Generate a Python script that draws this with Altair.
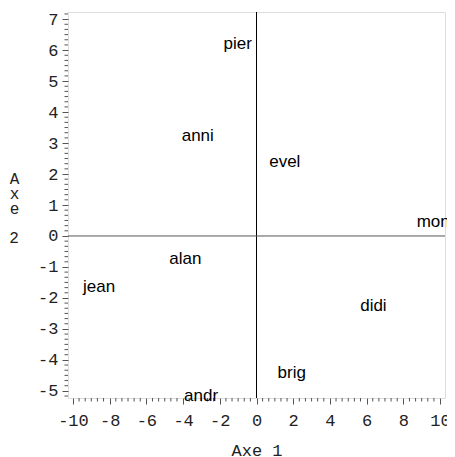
import altair as alt
import pandas as pd

names = ["pier", "anni", "evel", "moni", "alan", "jean", "didi", "brig", "andr"]
axe1 = [-1.02, -3.20, 1.54, 9.73, -3.88, -8.58, 6.37, 1.92, -3.02]
axe2 = [6.19, 3.24, 2.39, 0.44, -0.74, -1.65, -2.26, -4.42, -5.16]

x_ticks = list(range(-10, 11, 2))
y_ticks = list(range(-5, 8))
x_domain = [-10.27, 10.27]
y_domain = [-5.23, 7.23]

W, H = 377, 386

x_minor = [i / 3 for i in range(-31, 32) if i % 6 != 0 and x_domain[0] <= i / 3 <= x_domain[1]]
y_minor = [i / 6 for i in range(-32, 45) if i % 6 != 0 and y_domain[0] <= i / 6 <= y_domain[1]]

df = pd.DataFrame({"name": names, "x": axe1, "y": axe2})

xs = alt.Scale(domain=x_domain, nice=False, zero=False)
ys = alt.Scale(domain=y_domain, nice=False, zero=False)

mono = "Liberation Mono"

x_axis = alt.Axis(
    values=x_ticks, grid=False, domain=False, tickSize=6, tickColor="#555",
    labelFont=mono, labelFontSize=17, labelColor="#222", labelPadding=8,
    labelOverlap=False, labelFlush=False,
    labelExpr="replace(datum.label, '\u2212', '-')",
    title="Axe 1", titleFont=mono, titleFontSize=17, titleFontWeight="normal",
    titleColor="#222", titleBaseline="alphabetic", titleY=57,
)
y_axis = alt.Axis(
    values=y_ticks, grid=False, domain=False, tickSize=6, tickColor="#555",
    labelFont=mono, labelFontSize=17, labelColor="#222", labelPadding=4,
    labelOverlap=False, labelFlush=False,
    labelExpr="replace(datum.label, '\u2212', '-')",
    title=["A", "x", "e"], titleFont=mono, titleFontSize=16,
    titleFontWeight="normal", titleColor="#222", titleAngle=0,
    titleAlign="center", titleBaseline="alphabetic", titleLineHeight=15,
    titleX=-54, titleY=171,
)

X = lambda f: alt.X(f, scale=xs, axis=x_axis)
Y = lambda f: alt.Y(f, scale=ys, axis=y_axis)

labels = alt.Chart(df).mark_text(
    font="Liberation Sans", fontSize=17, color="#000", align="center", baseline="middle"
).encode(x=X("x:Q"), y=Y("y:Q"), text="name:N")

vline = alt.Chart(pd.DataFrame({"x": [0]})).mark_rule(color="#000", strokeWidth=1).encode(
    x=X("x:Q")
)
hline = alt.Chart(pd.DataFrame({"y": [0]})).mark_rule(color="#555", strokeWidth=1).encode(
    y=Y("y:Q")
)

xminor = alt.Chart(pd.DataFrame({"x": x_minor})).mark_rule(color="#555", clip=False).encode(
    x=X("x:Q"), y=alt.value(H), y2=alt.value(H + 3.5)
)
yminor = alt.Chart(pd.DataFrame({"y": y_minor})).mark_rule(color="#555", clip=False).encode(
    y=Y("y:Q"), x=alt.value(0), x2=alt.value(-3.5)
)

# last line of the vertical y-axis title ("A x e" + blank line + "2")
title_tail = alt.Chart(pd.DataFrame({"t": ["2"]})).mark_text(
    font=mono, fontSize=16, color="#222", align="center", baseline="alphabetic"
).encode(text="t:N", x=alt.value(-54), y=alt.value(231))

chart = alt.layer(vline, hline, xminor, yminor, labels, title_tail).properties(
    width=W, height=H,
    autosize=alt.AutoSizeParams(type="none"),
    padding={"left": 60, "top": 4, "right": 2, "bottom": 58},
).configure_view(stroke="#555", strokeWidth=1).configure(background="white")

chart.save("out.html", embed_options={"renderer": "svg", "actions": False})
